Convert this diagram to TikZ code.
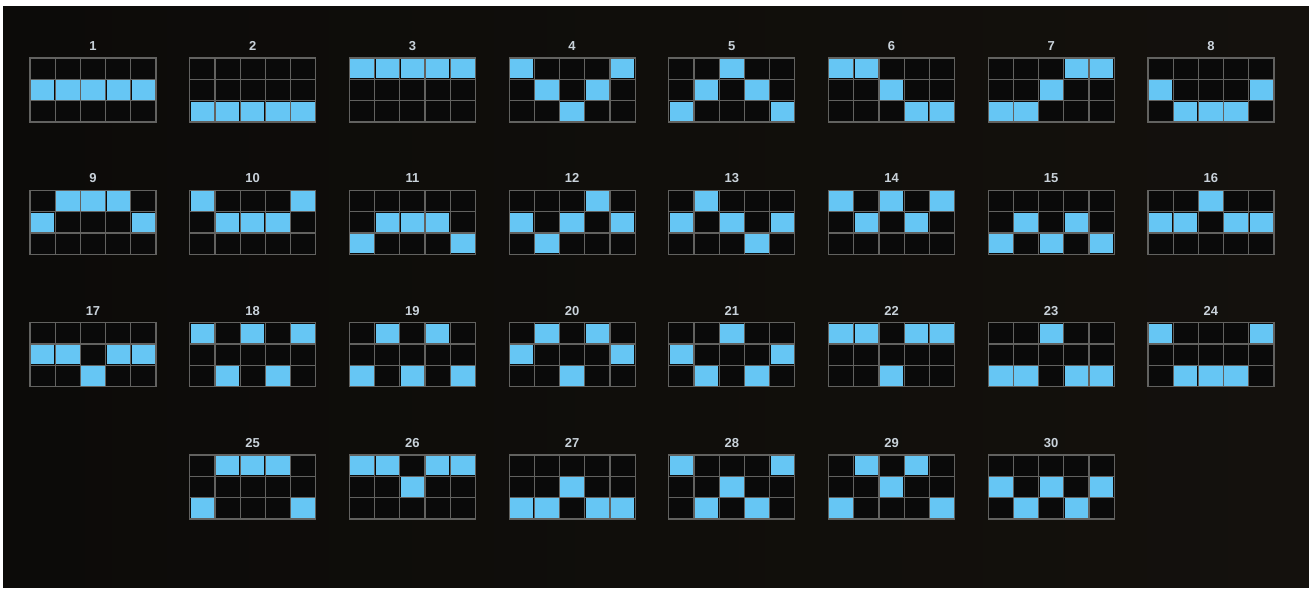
\documentclass[tikz,border=0pt]{standalone}
\usepackage{fontspec}
\setmainfont{Liberation Sans}
\definecolor{bgdark}{HTML}{14110D}
\definecolor{bgmid}{HTML}{2C2319}
\definecolor{bgleft}{HTML}{0C0B09}
\definecolor{gridgray}{HTML}{626260}
\definecolor{cellblack}{HTML}{0A0A0A}
\definecolor{lineblue}{HTML}{66C6F4}
\definecolor{labelgray}{HTML}{C9D2DA}
\begin{document}
\begin{tikzpicture}[x=1pt,y=-1pt,
  gridbg/.style={fill=cellblack},
  gridline/.style={draw=gridgray,line width=1.2pt},
  lit/.style={fill=lineblue},
  numlabel/.style={text=labelgray,font=\bfseries\fontsize{13}{13}\selectfont,inner sep=0pt}]
\useasboundingbox (0,0) rectangle (1309,590);
\fill[white] (0,0) rectangle (1309,590);
\shade[left color=bgleft,middle color=bgmid,right color=bgdark] (3,6) rectangle (1309,587);
\foreach \n/\c/\r/\pa/\pb/\pc/\pd/\pe in {
  1/0/0/1/1/1/1/1, 2/1/0/2/2/2/2/2, 3/2/0/0/0/0/0/0, 4/3/0/0/1/2/1/0,
  5/4/0/2/1/0/1/2, 6/5/0/0/0/1/2/2, 7/6/0/2/2/1/0/0, 8/7/0/1/2/2/2/1,
  9/0/1/1/0/0/0/1, 10/1/1/0/1/1/1/0, 11/2/1/2/1/1/1/2, 12/3/1/1/2/1/0/1,
  13/4/1/1/0/1/2/1, 14/5/1/0/1/0/1/0, 15/6/1/2/1/2/1/2, 16/7/1/1/1/0/1/1,
  17/0/2/1/1/2/1/1, 18/1/2/0/2/0/2/0, 19/2/2/2/0/2/0/2, 20/3/2/1/0/2/0/1,
  21/4/2/1/2/0/2/1, 22/5/2/0/0/2/0/0, 23/6/2/2/2/0/2/2, 24/7/2/0/2/2/2/0,
  25/1/3/2/0/0/0/2, 26/2/3/0/0/1/0/0, 27/3/3/2/2/1/2/2, 28/4/3/0/2/1/2/0,
  29/5/3/2/0/1/0/2, 30/6/3/1/2/1/2/1} {
  \pgfmathsetmacro\gx{30+159.7*\c}
  \pgfmathsetmacro\gy{58+132.3*\r}
  \fill[gridbg] (\gx,\gy) rectangle ++(126,64);
  \foreach \k in {1,2,3,4} {
    \draw[gridline] (\gx+25.2*\k,\gy) -- ++(0,64);
  }
  \foreach \k in {1,2} {
    \draw[gridline] (\gx,\gy+21.333*\k) -- ++(126,0);
  }
  \draw[gridline] (\gx,\gy) rectangle ++(126,64);
  \foreach \i/\lr in {0/\pa,1/\pb,2/\pc,3/\pd,4/\pe} {
    \fill[lit] (\gx+25.2*\i+0.9,\gy+21.333*\lr+0.9) rectangle ++(23.4,19.53);
  }
  \node[numlabel] (lab\n) at (\gx+63,\gy-12) {\n};
}
\end{tikzpicture}
\end{document}
